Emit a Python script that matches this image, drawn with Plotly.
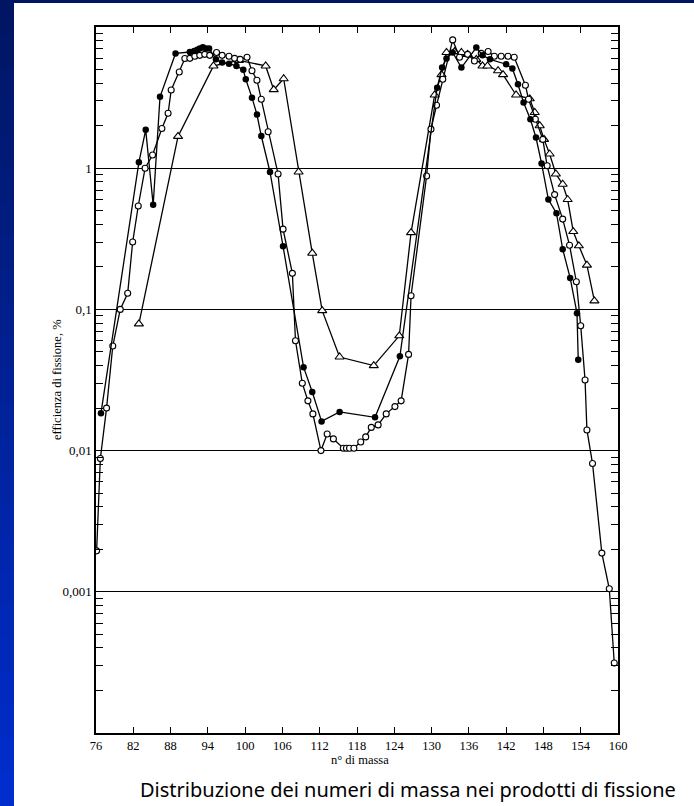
import plotly.graph_objects as go

# ── Data ──────────────────────────────────────────────────────
# filled circles
filled_mass = [76.8, 82.9, 84.0, 85.2, 86.3, 88.8, 91.1, 91.8, 92.3, 92.7, 93.2, 93.7, 94.2,
               95.3, 96.3, 97.4, 98.6, 99.7, 100.1, 101.1, 101.9, 102.6, 104.0, 106.1,
               109.4, 110.8, 112.3, 115.2, 120.9, 124.9, 130.9, 131.7, 132.4, 133.4,
               134.8, 137.2, 138.2, 139.4, 142.0, 143.0, 143.9, 144.8, 145.9, 146.8,
               147.7, 148.8, 150.1, 151.1, 152.3, 153.4, 153.6]
filled_eff = [0.0184, 1.10, 1.87, 0.55, 3.2, 6.5, 6.65, 6.75, 6.9, 7.05, 7.2, 7.05, 7.05,
              5.9, 5.6, 5.5, 5.3, 4.97, 4.26, 3.16, 2.4, 1.69, 0.94, 0.28,
              0.039, 0.026, 0.0161, 0.0188, 0.0172, 0.0465, 3.72, 5.16, 5.98, 6.6,
              5.16, 7.15, 6.3, 5.9, 5.45, 5.08, 3.93, 2.92, 2.22, 1.65,
              1.08, 0.6, 0.48, 0.267, 0.167, 0.094, 0.044]

# open circles
open_mass = [76.1, 76.7, 77.7, 78.7, 79.9, 81.1, 81.9, 82.8, 83.9, 85.1, 86.6, 87.6, 88.1,
             89.4, 90.3, 91.1, 91.9, 92.7, 93.5, 94.3, 95.4, 96.3, 97.4, 98.3, 99.2,
             100.3, 101.1, 101.9, 102.6, 103.7, 105.3, 106.1, 107.6, 108.1, 109.2,
             110.1, 110.9, 112.2, 113.2, 114.2, 115.8, 116.3, 116.8, 117.5, 118.6,
             119.4, 120.3, 121.4, 122.7, 124.1, 125.1, 126.3, 126.7, 129.2, 129.9,
             130.8, 131.8, 133.4, 134.5, 135.8, 136.9, 138.0, 139.1, 140.1, 141.2,
             142.3, 143.3, 145.1, 145.6, 146.7, 147.9, 148.6, 149.8, 151.1, 152.2,
             153.3, 154.0, 154.7, 155.0, 155.9, 157.4, 158.6, 159.4]
open_eff = [0.00195, 0.0088, 0.020, 0.055, 0.10, 0.13, 0.30, 0.54, 1.0, 1.24, 1.91, 2.45, 3.58,
            4.8, 5.98, 6.0, 6.2, 6.3, 6.4, 6.3, 6.6, 6.3, 6.2, 6.0, 5.9,
            6.1, 4.9, 4.2, 3.08, 1.81, 0.91, 0.37, 0.18, 0.06, 0.030,
            0.0225, 0.0182, 0.0100, 0.0131, 0.0121, 0.0104, 0.0104, 0.0104, 0.0104, 0.0115,
            0.0125, 0.0146, 0.0152, 0.0182, 0.0205, 0.0225, 0.048, 0.125, 0.88, 1.89,
            2.79, 4.27, 8.1, 6.1, 6.4, 5.75, 6.5, 6.7, 6.2, 6.2,
            6.2, 6.1, 3.87, 3.08, 2.22, 1.6, 1.04, 0.65, 0.436, 0.285,
            0.157, 0.0766, 0.0316, 0.014, 0.0081, 0.00188, 0.00105, 0.000313]

# open triangles
tri_mass = [82.9, 89.2, 94.9, 99.0, 103.3, 104.6, 106.2, 108.6, 110.8, 112.4, 115.2,
            120.7, 124.8, 126.7, 130.5, 131.6, 132.4, 133.7, 134.8, 135.8, 137.2,
            138.2, 139.0, 140.7, 141.5, 143.6, 145.8, 146.6, 147.4, 148.1, 149.0,
            150.0, 151.1, 151.9, 152.8, 153.7, 155.0, 156.2]
tri_eff = [0.079, 1.68, 5.3, 5.8, 5.3, 3.6, 4.3, 0.94, 0.25, 0.098, 0.046,
           0.040, 0.065, 0.35, 3.3, 4.6, 6.6, 6.7, 6.6, 6.4, 5.9,
           5.3, 5.3, 4.9, 4.6, 3.3, 3.1, 2.48, 2.0, 1.6, 1.26,
           0.91, 0.77, 0.6, 0.356, 0.282, 0.206, 0.115]

x_ticks = list(range(76, 161, 6))
y_ticks = [0.001, 0.01, 0.1, 1]
y_ticktext = ["0,001", "0,01", "0,1", "1"]

SERIF = "Liberation Serif, Times New Roman, serif"
W, H = 694, 806
L, R, T, B = 96, 76, 27, 73

fig = go.Figure()

line = dict(color="black", width=1.3)
fig.add_trace(go.Scatter(
    x=tri_mass, y=tri_eff, mode="lines+markers", line=line,
    marker=dict(symbol="triangle-up", size=8, color="white",
                line=dict(color="black", width=1.1)),
))
fig.add_trace(go.Scatter(
    x=open_mass, y=open_eff, mode="lines+markers", line=line,
    marker=dict(symbol="circle", size=6, color="white",
                line=dict(color="black", width=1.1)),
))
fig.add_trace(go.Scatter(
    x=filled_mass, y=filled_eff, mode="lines+markers", line=line,
    marker=dict(symbol="circle", size=6.5, color="black"),
))

# ── Slide background bands (left gradient + top strip) ────────
pw, ph = W - L - R, H - T - B
px = lambda v: (v - L) / pw
py = lambda v: (H - B - v) / ph
n = 24
for i in range(n):
    f = i / (n - 1)
    c = f"rgb(0,{int(22 + 23 * f)},{int(100 + 105 * f)})"
    fig.add_shape(type="rect", xref="paper", yref="paper",
                  x0=px(0), x1=px(14), y0=py(H * (i + 1) / n + 1), y1=py(H * i / n),
                  fillcolor=c, line_width=0, layer="above")
fig.add_shape(type="rect", xref="paper", yref="paper",
              x0=px(0), x1=px(W), y0=py(3), y1=py(-1),
              fillcolor="rgb(0,22,98)", line_width=0, layer="above")

# ── Text ──────────────────────────────────────────────────────
fig.add_annotation(text="efficienza di fissione, %", textangle=-90,
                   xref="paper", yref="paper", x=px(57), y=0.5, showarrow=False,
                   xanchor="center", yanchor="middle",
                   font=dict(family=SERIF, size=12.5, color="black"))
fig.add_annotation(text="n° di massa", xref="paper", yref="paper",
                   x=px(360), y=py(760), showarrow=False,
                   xanchor="center", yanchor="middle",
                   font=dict(family=SERIF, size=12.5, color="black"))
fig.add_annotation(text="Distribuzione dei numeri di massa nei prodotti di fissione",
                   xref="paper", yref="paper", x=px(408), y=py(789), showarrow=False,
                   xanchor="center", yanchor="middle",
                   font=dict(family="Comic Sans MS, Noto Sans, sans-serif", size=20,
                             color="black"))

minor_vals = [k * 10 ** e for e in range(-4, 1) for k in range(2, 10)]

fig.update_xaxes(
    range=[76, 160], tickvals=x_ticks, ticks="inside", ticklen=6,
    tickcolor="black", tickwidth=1.2, showline=True, linecolor="black",
    linewidth=1.5, mirror="allticks", showgrid=False, zeroline=False,
    tickfont=dict(family=SERIF, size=12.5, color="black"),
)
fig.update_yaxes(
    type="log", range=[-4, 1], tickvals=y_ticks, ticktext=y_ticktext,
    ticks="inside", ticklen=8, tickcolor="black", tickwidth=1.2,
    showline=True, linecolor="black", linewidth=1.5, mirror="allticks",
    showgrid=True, gridcolor="black", gridwidth=1.2, zeroline=False,
    minor=dict(tickmode="array", tickvals=minor_vals, ticks="inside",
               ticklen=7, tickcolor="black", tickwidth=1.2, showgrid=False),
    tickfont=dict(family=SERIF, size=13, color="black"),
)

fig.update_layout(
    width=W, height=H,
    margin=dict(l=L, r=R, t=T, b=B),
    paper_bgcolor="white", plot_bgcolor="white",
    showlegend=False,
)

# drop the browser's default 8px page margin so the figure sits at 0,0
fig.write_html("out.html", config={"displayModeBar": False},
               post_script="document.body.style.margin='0';document.body.style.padding='0';")
